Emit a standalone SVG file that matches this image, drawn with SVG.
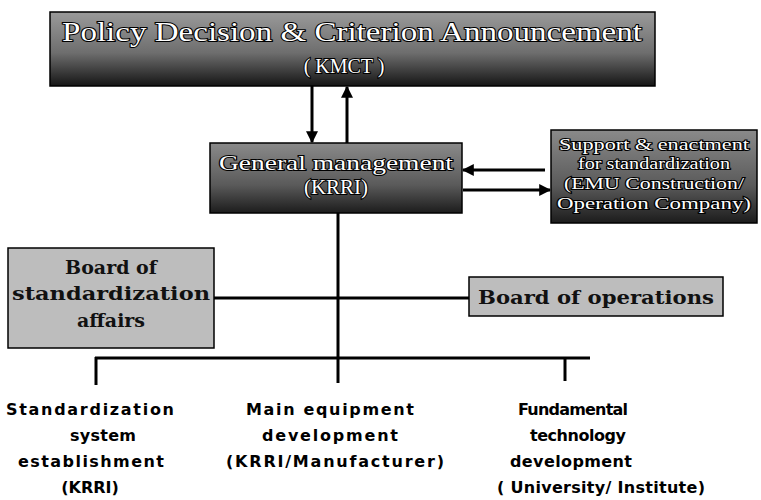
<svg xmlns="http://www.w3.org/2000/svg" width="761" height="500" viewBox="0 0 761 500">
<defs>
<linearGradient id="darkG" x1="0" y1="0" x2="0" y2="1">
<stop offset="0" stop-color="#9a9a9a"/>
<stop offset="0.55" stop-color="#6e6e6e"/>
<stop offset="1" stop-color="#151515"/>
</linearGradient>
<linearGradient id="midG" x1="0" y1="0" x2="0" y2="1">
<stop offset="0" stop-color="#8a8a8a"/>
<stop offset="0.6" stop-color="#5a5a5a"/>
<stop offset="1" stop-color="#1c1c1c"/>
</linearGradient>
<marker id="ah" viewBox="0 0 10 10" refX="9" refY="5" markerWidth="4" markerHeight="4" orient="auto" markerUnits="strokeWidth">
<path d="M0,0 L10,5 L0,10 z" fill="#000"/>
</marker>
<style>
.dark{fill:url(#darkG);stroke:#000;stroke-width:1.5}
.mid{fill:url(#midG);stroke:#000;stroke-width:1.5}
.light{fill:#bdbdbd;stroke:#000;stroke-width:1.5}
.wt{font-family:"Liberation Serif","Times New Roman",serif;fill:#fff;stroke:#000;stroke-width:2;paint-order:stroke;text-anchor:middle}
.bt{font-family:"DejaVu Serif","Liberation Serif",serif;font-weight:bold;fill:#111;text-anchor:middle}
.st{font-family:"DejaVu Sans","Liberation Sans",sans-serif;font-weight:bold;fill:#000;text-anchor:middle;font-size:16px}
.ln{stroke:#000;stroke-width:3;fill:none}
</style>
</defs>
<g id="policy">
<rect class="dark" x="50" y="12" width="605" height="74"/>
<text class="wt" x="352" y="41" font-size="28" textLength="580" lengthAdjust="spacingAndGlyphs">Policy Decision &amp; Criterion Announcement</text>
<text class="wt" x="344" y="73" font-size="20">( KMCT )</text>
</g>
<g id="general">
<rect class="mid" x="210" y="143" width="252" height="70"/>
<text class="wt" x="336" y="170" font-size="21" textLength="234" lengthAdjust="spacingAndGlyphs">General management</text>
<text class="wt" x="336" y="194" font-size="21">(KRRI)</text>
</g>
<g id="support">
<rect class="mid" x="551" y="130" width="206" height="93"/>
<text class="wt" x="654" y="150" font-size="16" textLength="190" lengthAdjust="spacingAndGlyphs">Support &amp; enactment</text>
<text class="wt" x="654" y="169" font-size="16" textLength="152" lengthAdjust="spacingAndGlyphs">for standardization</text>
<text class="wt" x="654" y="189" font-size="16" textLength="180" lengthAdjust="spacingAndGlyphs">(EMU Construction/</text>
<text class="wt" x="654" y="209" font-size="16" textLength="194" lengthAdjust="spacingAndGlyphs">Operation Company)</text>
</g>
<g id="board-std">
<rect class="light" x="8" y="248" width="206" height="100"/>
<text class="bt" x="111" y="274" font-size="19">Board of</text>
<text class="bt" x="111" y="300" font-size="19" textLength="198" lengthAdjust="spacingAndGlyphs">standardization</text>
<text class="bt" x="111" y="327" font-size="19">affairs</text>
</g>
<g id="board-ops">
<rect class="light" x="469" y="277" width="254" height="39"/>
<text class="bt" x="596" y="304" font-size="19" textLength="236" lengthAdjust="spacingAndGlyphs">Board of operations</text>
</g>
<g id="std-sys">
<text class="st" x="90" y="415" textLength="168" lengthAdjust="spacing">Standardization</text>
<text class="st" x="103" y="441" textLength="66" lengthAdjust="spacing">system</text>
<text class="st" x="91" y="467" textLength="146" lengthAdjust="spacing">establishment</text>
<text class="st" x="90" y="493">(KRRI)</text>
</g>
<g id="main-eq">
<text class="st" x="330" y="415" textLength="168" lengthAdjust="spacing">Main equipment</text>
<text class="st" x="330" y="441" textLength="136" lengthAdjust="spacing">development</text>
<text class="st" x="335" y="467" textLength="218" lengthAdjust="spacing">(KRRI/Manufacturer)</text>
</g>
<g id="fund-tech">
<text class="st" x="573" y="415" textLength="110" lengthAdjust="spacing">Fundamental</text>
<text class="st" x="578" y="441" textLength="96" lengthAdjust="spacing">technology</text>
<text class="st" x="571" y="467" textLength="122" lengthAdjust="spacing">development</text>
<text class="st" x="601" y="493" textLength="208" lengthAdjust="spacing">( University/ Institute)</text>
</g>
<g id="connectors">
<line class="ln" x1="312" y1="86" x2="312" y2="142" marker-end="url(#ah)"/>
<line class="ln" x1="347" y1="143" x2="347" y2="87" marker-end="url(#ah)"/>
<line class="ln" x1="545" y1="170" x2="463" y2="170" marker-end="url(#ah)"/>
<line class="ln" x1="463" y1="190" x2="550" y2="190" marker-end="url(#ah)"/>
<line class="ln" x1="338" y1="213" x2="338" y2="383"/>
<line class="ln" x1="214" y1="298" x2="469" y2="298"/>
<line class="ln" x1="95" y1="358" x2="590" y2="358"/>
<line class="ln" x1="96" y1="357" x2="96" y2="385"/>
<line class="ln" x1="565" y1="357" x2="565" y2="381"/>
</g>
</svg>
